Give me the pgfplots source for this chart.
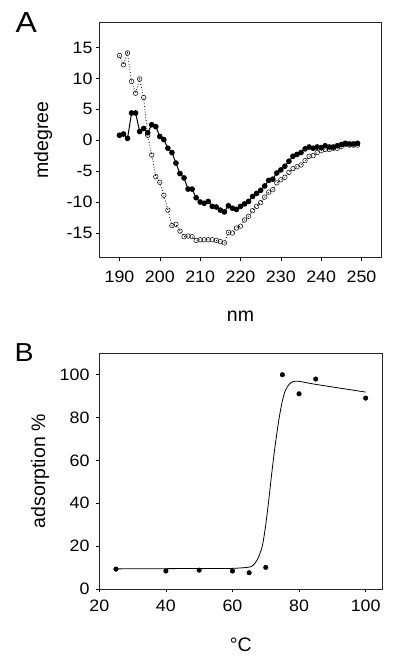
\documentclass[border=0pt]{standalone}
\usepackage{fontspec}
\setmainfont{Liberation Sans}
\newfontfamily\tickfont[FakeStretch=1.08]{Liberation Sans}
\newfontfamily\panelfont[FakeStretch=1.1]{Liberation Sans}
\usepackage{pgfplots}
\pgfplotsset{compat=1.18}
\usepackage{pgfplotstable}

\pgfplotstableread{
x y
190 0.8
191 1.0
192 0.3
193 4.4
194 4.4
195 1.4
196 1.9
197 1.2
198 2.5
199 2.2
200 0.6
201 0.1
202 -1.3
203 -2.0
204 -3.7
205 -5.4
206 -6.1
207 -7.9
208 -7.9
209 -9.3
210 -10.0
211 -10.2
212 -9.9
213 -10.7
214 -10.8
215 -11.3
216 -11.6
217 -10.6
218 -11.0
219 -11.2
220 -10.7
221 -10.3
222 -9.9
223 -9.1
224 -8.6
225 -8.1
226 -7.4
227 -6.5
228 -6.3
229 -5.3
230 -4.8
231 -4.2
232 -3.4
233 -2.6
234 -2.3
235 -2.0
236 -1.4
237 -1.1
238 -1.3
239 -1.1
240 -1.2
241 -0.9
242 -1.1
243 -1.1
244 -0.9
245 -0.7
246 -0.5
247 -0.6
248 -0.6
249 -0.5
}\filleddata

\pgfplotstableread{
x y
190 13.7
191 12.2
192 14.1
193 9.5
194 7.6
195 9.9
196 6.9
197 0.8
198 -2.4
199 -5.9
200 -6.8
201 -8.9
202 -11.3
203 -13.8
204 -13.6
205 -14.7
206 -15.6
207 -15.5
208 -15.6
209 -16.2
210 -16.1
211 -16.1
212 -16.1
213 -16.1
214 -16.2
215 -16.4
216 -16.6
217 -14.9
218 -15.0
219 -14.2
220 -13.9
221 -12.9
222 -12.3
223 -11.4
224 -10.7
225 -10.1
226 -9.2
227 -8.4
228 -8.0
229 -6.9
230 -6.4
231 -6.0
232 -5.2
233 -4.6
234 -4.3
235 -4.0
236 -3.3
237 -2.6
238 -2.5
239 -2.0
240 -1.7
241 -1.5
242 -1.5
243 -1.3
244 -1.3
245 -1.0
246 -0.7
247 -0.8
248 -0.8
249 -0.8
}\opendata

\pgfplotstableread{
x y
25 9.3
40 8.4
50 8.8
60 8.4
65 7.6
70 10.1
75 100
80 91.1
85 98.0
100 89.1
}\adsdata

\pgfplotstableread{
x y
25 9.4
40 9.5
50 9.6
59.4 9.6
64.4 10.1
65.9 10.7
67.4 13.5
68.9 19.7
69.9 29.0
70.9 41.5
71.9 55.4
72.9 67.9
73.9 78.7
74.9 87.2
75.9 92.7
77.4 96.1
79.5 97.0
85 95.5
100 91.9
}\fitdata

\pgfplotsset{
  panel/.style={
    scale only axis,
    axis line style={black!85, line width=0.8bp},
    tick style={black, line width=0.6bp},
    major tick length=3.3bp,
    tick align=outside,
    xtick pos=bottom, ytick pos=left,
    /pgf/number format/assume math mode=true,
    tick label style={font=\tickfont\fontsize{16.5bp}{19bp}\selectfont},
    label style={font=\fontsize{19.5bp}{24bp}\selectfont},
  }
}

\begin{document}
\begin{tikzpicture}[x=1bp,y=1bp]
\useasboundingbox (0,0) rectangle (404,-662);

\begin{axis}[panel,
  at={(99.3bp,-257.7bp)}, anchor=south west,
  width=282.4bp, height=235bp,
  xmin=185, xmax=255, ymin=-19, ymax=19,
  xtick={190,200,...,250}, ytick={-15,-10,...,15},
  xticklabel style={yshift=-6.5bp},
  xlabel={nm}, ylabel={mdegree},
  xlabel style={at={(axis description cs:0.5,-0.2723)}, anchor=base},
  ylabel style={at={(axis description cs:-0.199,0.5)}, anchor=center},
]
\addplot[black, dotted, line width=0.8bp, mark=o, mark size=2.3bp,
  mark options={solid, fill=white, line width=0.5bp}] table {\opendata};
\addplot[black, line width=1bp, mark=*, mark size=2.3bp] table {\filleddata};
\end{axis}

\begin{axis}[panel,
  at={(99.3bp,-589bp)}, anchor=south west,
  width=283bp, height=235.7bp,
  xmin=20, xmax=105, ymin=0, ymax=110,
  xtick={20,40,...,100}, ytick={0,20,...,100},
  xticklabel style={yshift=-4bp},
  yticklabel style={xshift=-3bp},
  xlabel={°C}, ylabel={adsorption \%},
  xlabel style={at={(axis description cs:0.5,-0.263)}, anchor=base},
  ylabel style={at={(axis description cs:-0.2095,0.5)}, anchor=center},
]
\addplot[black, line width=0.8bp, smooth, tension=0.5] table {\fitdata};
\addplot[black, only marks, mark=*, mark size=2.3bp] table {\adsdata};
\end{axis}

\node[anchor=base west, inner sep=0, font=\panelfont\fontsize{29bp}{32bp}\selectfont] at (15.5,-33) {A};
\node[anchor=base west, inner sep=0, font=\panelfont\fontsize{26bp}{30bp}\selectfont] at (14.5,-361.7) {B};
\end{tikzpicture}
\end{document}
